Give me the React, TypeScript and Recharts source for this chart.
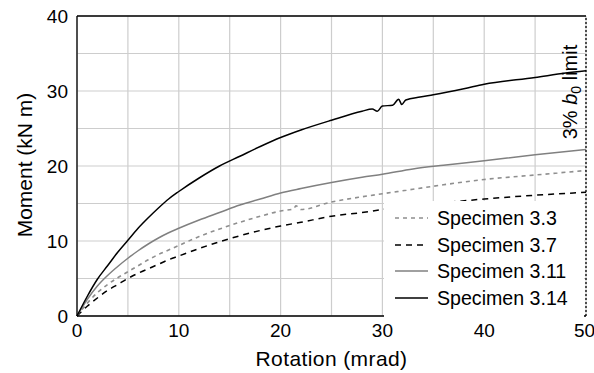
import React from 'react';
import {
  LineChart,
  Line,
  XAxis,
  YAxis,
  CartesianGrid,
  ReferenceLine,
  Legend,
} from 'recharts';

const FONT = '"Liberation Sans", Arial, sans-serif';

const rotationTicks = [0, 5, 10, 15, 20, 25, 30, 35, 40, 45, 50];
const momentTicks = [0, 5, 10, 15, 20, 25, 30, 35, 40];

const rotation33 = [0, 1, 2, 3, 4, 5, 6, 7, 8, 9, 10, 12, 14, 16, 18, 20, 21.3, 21.5, 22, 25, 28, 30, 33, 36, 40, 45, 50];
const moment33 = [0, 1.7, 3.1, 4.2, 5.1, 5.9, 6.7, 7.5, 8.2, 8.8, 9.4, 10.6, 11.6, 12.5, 13.3, 14.0, 14.3, 14.7, 14.2, 15.2, 15.9, 16.3, 16.9, 17.5, 18.2, 18.8, 19.4];

const rotation37 = [0, 1, 2, 3, 4, 5, 6, 7, 8, 9, 10, 12, 14, 16, 18, 20, 22, 25, 28, 30, 33, 36, 40, 45, 50];
const moment37 = [0, 1.3, 2.4, 3.4, 4.2, 5.0, 5.7, 6.3, 6.9, 7.5, 8.0, 9.0, 9.9, 10.7, 11.4, 12.0, 12.5, 13.3, 13.8, 14.2, 14.7, 15.1, 15.6, 16.1, 16.5];

const rotation311 = [0, 1, 2, 3, 4, 5, 6, 7, 8, 9, 10, 12, 14, 16, 18, 20, 22, 25, 28, 30, 33, 36, 40, 45, 50];
const moment311 = [0, 2.2, 4.0, 5.4, 6.6, 7.7, 8.7, 9.6, 10.4, 11.1, 11.7, 12.8, 13.8, 14.8, 15.6, 16.4, 17.0, 17.8, 18.5, 18.9, 19.6, 20.1, 20.7, 21.5, 22.2];

const rotation314 = [0, 1, 2, 3, 4, 5, 6, 7, 8, 9, 10, 12, 14, 16, 18, 20, 22, 25, 28, 29, 29.5, 30, 31, 31.6, 31.9, 32.3, 33.7, 35, 38, 40, 45, 48, 50];
const moment314 = [0, 2.6, 4.9, 6.7, 8.5, 10.1, 11.7, 13.1, 14.4, 15.6, 16.6, 18.4, 20.0, 21.3, 22.6, 23.8, 24.8, 26.1, 27.3, 27.6, 27.3, 28.0, 28.1, 28.9, 28.2, 28.8, 29.2, 29.5, 30.3, 30.9, 31.8, 32.4, 32.7];

const toPoints = (xs: number[], ys: number[]) => xs.map((x, i) => ({ rotation: x, moment: ys[i] }));

const SERIES = [
  { name: 'Specimen 3.3', data: toPoints(rotation33, moment33), stroke: '#8f8f8f', dash: '4 4', width: 1.6 },
  { name: 'Specimen 3.7', data: toPoints(rotation37, moment37), stroke: '#000000', dash: '6 5', width: 1.5 },
  { name: 'Specimen 3.11', data: toPoints(rotation311, moment311), stroke: '#808080', dash: undefined, width: 1.5 },
  { name: 'Specimen 3.14', data: toPoints(rotation314, moment314), stroke: '#000000', dash: undefined, width: 1.5 },
];

const renderLegend = () => (
  <div
    style={{
      background: '#fff',
      width: 200,
      height: 116,
      paddingTop: 4,
      boxSizing: 'border-box',
      fontFamily: FONT,
      color: '#000',
    }}
  >
    {SERIES.map((s) => (
      <div key={s.name} style={{ display: 'flex', alignItems: 'center', height: 26.5 }}>
        <svg width={44} height={10} style={{ display: 'block' }}>
          <line x1={11} x2={44} y1={5} y2={5} stroke={s.stroke} strokeWidth={s.width} strokeDasharray={s.dash} />
        </svg>
        <span style={{ marginLeft: 9, fontSize: 19.6, lineHeight: '20px' }}>{s.name}</span>
      </div>
    ))}
  </div>
);

const LimitLabel = (props: any) => {
  const { viewBox } = props;
  const x = viewBox.x - 9;
  const y = 92;
  return (
    <text
      x={x}
      y={y}
      transform={`rotate(-90 ${x} ${y})`}
      textAnchor="middle"
      fontSize={20}
      fontFamily={FONT}
      fill="#000"
    >
      3% <tspan fontStyle="italic">b</tspan>
      <tspan fontSize={14} dy={4}>0</tspan>
      <tspan dy={-4}> limit</tspan>
    </text>
  );
};

const YLabel = () => (
  <text
    x={32}
    y={165}
    transform="rotate(-90 32 165)"
    textAnchor="middle"
    fontSize={21}
    fontFamily={FONT}
    fill="#000"
  >
    Moment (kN m)
  </text>
);

const majorOnly = (v: number) => (v % 10 === 0 ? String(v) : '');

export default function App() {
  return (
    <div style={{ position: 'absolute', left: 0, top: 0, width: 594, height: 373, background: '#fff' }}>
      <LineChart width={594} height={373} margin={{ top: 16, right: 8, bottom: 0, left: 0 }}>
        <CartesianGrid stroke="#cdcdcd" strokeWidth={1.2} />
        <XAxis
          type="number"
          dataKey="rotation"
          domain={[0, 50]}
          ticks={rotationTicks}
          tickFormatter={majorOnly}
          allowDuplicatedCategory={false}
          height={57}
          tickLine={false}
          tickSize={6}
          tickMargin={2}
          axisLine={{ stroke: '#000', strokeWidth: 1.3 }}
          tick={{ fill: '#000', fontSize: 19, fontFamily: FONT }}
          label={{
            value: 'Rotation (mrad)',
            position: 'insideBottom',
            offset: 7,
            fill: '#000',
            fontSize: 21,
            fontFamily: FONT,
            letterSpacing: 0.4,
          }}
        />
        <YAxis
          type="number"
          domain={[0, 40]}
          ticks={momentTicks}
          tickFormatter={majorOnly}
          width={77}
          tickLine={false}
          tickSize={6}
          tickMargin={3}
          axisLine={{ stroke: '#000', strokeWidth: 1.3 }}
          tick={{ fill: '#000', fontSize: 19, fontFamily: FONT }}
          label={<YLabel />}
        />
        <ReferenceLine y={40} stroke="#000" strokeWidth={1.3} />
        {SERIES.map((s) => (
          <Line
            key={s.name}
            data={s.data}
            dataKey="moment"
            name={s.name}
            type="monotone"
            stroke={s.stroke}
            strokeWidth={s.width}
            strokeDasharray={s.dash}
            dot={false}
            activeDot={false}
            isAnimationActive={false}
          />
        ))}
        <ReferenceLine x={50} stroke="#000" strokeWidth={1.3} strokeDasharray="2 2" label={<LimitLabel />} />
        <Legend
          layout="vertical"
          align="center"
          verticalAlign="middle"
          content={renderLegend}
          wrapperStyle={{ left: 384, top: 201, width: 200, height: 116 }}
        />
      </LineChart>
    </div>
  );
}
